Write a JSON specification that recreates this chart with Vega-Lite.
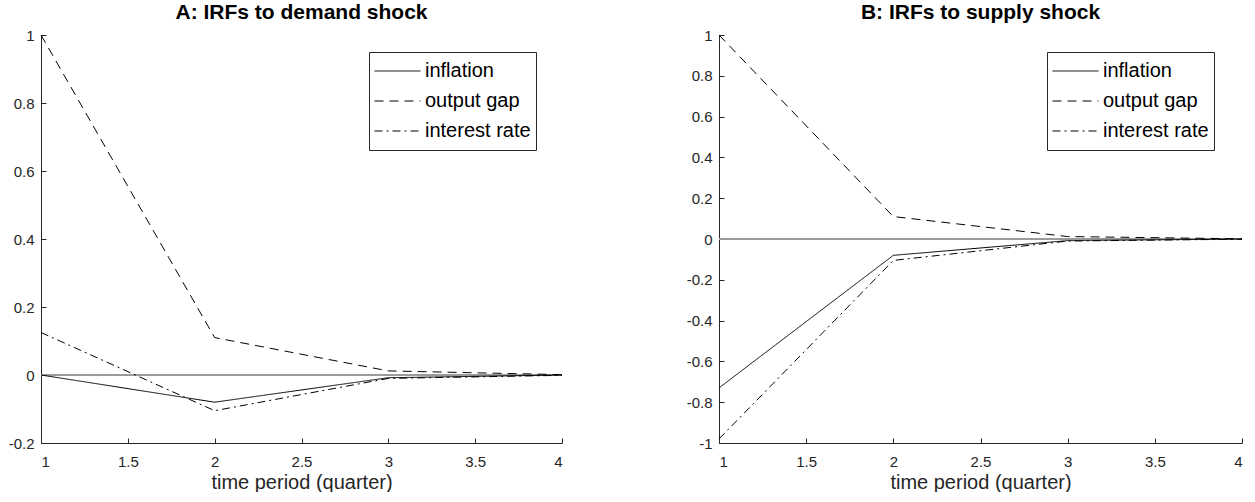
{
  "$schema": "https://vega.github.io/schema/vega-lite/v6.json",
  "background": "white",
  "padding": {"top": 2, "left": 8, "right": 2, "bottom": 0},
  "spacing": 122,
  "config": {
    "font": "Liberation Sans",
    "view": {"stroke": null},
    "axis": {
      "grid": false,
      "domainColor": "#262626",
      "domainWidth": 1,
      "tickColor": "#262626",
      "tickWidth": 1,
      "tickSize": -5,
      "labelColor": "#262626",
      "labelFontSize": 15,
      "titleColor": "#262626",
      "titleFontSize": 20,
      "titleFontWeight": "normal"
    },
    "axisX": {"labelPadding": 16, "titlePadding": 3},
    "axisY": {"labelPadding": 12},
    "title": {"fontSize": 21, "fontWeight": "bold", "color": "black", "offset": 5},
    "legend": {
      "orient": "none",
      "legendX": 328,
      "legendY": 17,
      "title": null,
      "symbolType": "stroke",
      "symbolSize": 2116,
      "symbolStrokeWidth": 1,
      "symbolStrokeColor": "black",
      "clipHeight": 28,
      "rowPadding": 2,
      "labelFontSize": 20,
      "labelColor": "black",
      "labelOffset": 4,
      "strokeColor": "#262626",
      "fillColor": "white",
      "padding": 5
    }
  },
  "datasets": {
    "irf": [
      {"panel": "A", "t": 1, "series": "inflation", "value": 0},
      {"panel": "A", "t": 2, "series": "inflation", "value": -0.08},
      {"panel": "A", "t": 3, "series": "inflation", "value": -0.008},
      {"panel": "A", "t": 4, "series": "inflation", "value": 0},
      {"panel": "A", "t": 1, "series": "output gap", "value": 1},
      {"panel": "A", "t": 2, "series": "output gap", "value": 0.11},
      {"panel": "A", "t": 3, "series": "output gap", "value": 0.012},
      {"panel": "A", "t": 4, "series": "output gap", "value": 0.001},
      {"panel": "A", "t": 1, "series": "interest rate", "value": 0.125},
      {"panel": "A", "t": 2, "series": "interest rate", "value": -0.105},
      {"panel": "A", "t": 3, "series": "interest rate", "value": -0.01},
      {"panel": "A", "t": 4, "series": "interest rate", "value": -0.001},
      {"panel": "B", "t": 1, "series": "inflation", "value": -0.73},
      {"panel": "B", "t": 2, "series": "inflation", "value": -0.08},
      {"panel": "B", "t": 3, "series": "inflation", "value": -0.008},
      {"panel": "B", "t": 4, "series": "inflation", "value": 0},
      {"panel": "B", "t": 1, "series": "output gap", "value": 1},
      {"panel": "B", "t": 2, "series": "output gap", "value": 0.11},
      {"panel": "B", "t": 3, "series": "output gap", "value": 0.012},
      {"panel": "B", "t": 4, "series": "output gap", "value": 0.001},
      {"panel": "B", "t": 1, "series": "interest rate", "value": -0.98},
      {"panel": "B", "t": 2, "series": "interest rate", "value": -0.105},
      {"panel": "B", "t": 3, "series": "interest rate", "value": -0.01},
      {"panel": "B", "t": 4, "series": "interest rate", "value": -0.001}
    ]
  },
  "resolve": {
    "scale": {"x": "independent", "y": "independent", "strokeDash": "independent"},
    "legend": {"strokeDash": "independent"}
  },
  "hconcat": [
    {
      "width": 521,
      "height": 408,
      "title": "A: IRFs to demand shock",
      "data": {"name": "irf"},
      "transform": [{"filter": "datum.panel == 'A'"}],
      "layer": [
        {
          "mark": {"type": "rule", "color": "#9a9a9a", "strokeWidth": 1},
          "encoding": {"y": {"datum": 0}}
        },
        {
          "mark": {"type": "line", "color": "black", "strokeWidth": 1},
          "encoding": {
            "x": {
              "field": "t", "type": "quantitative",
              "scale": {"domain": [1, 4], "nice": false, "zero": false},
              "axis": {"title": "time period (quarter)", "values": [1, 1.5, 2, 2.5, 3, 3.5, 4], "labelExpr": "'' + datum.value"}
            },
            "y": {
              "field": "value", "type": "quantitative",
              "scale": {"domain": [-0.2, 1], "nice": false, "zero": false},
              "axis": {"title": null, "values": [-0.2, 0, 0.2, 0.4, 0.6, 0.8, 1], "labelExpr": "'' + datum.value"}
            },
            "strokeDash": {
              "field": "series", "type": "nominal",
              "scale": {"domain": ["inflation", "output gap", "interest rate"], "range": [[1, 0], [9, 6], [8, 4, 2, 4]]}
            }
          }
        }
      ]
    },
    {
      "width": 523,
      "height": 408,
      "title": "B: IRFs to supply shock",
      "data": {"name": "irf"},
      "transform": [{"filter": "datum.panel == 'B'"}],
      "layer": [
        {
          "mark": {"type": "rule", "color": "#9a9a9a", "strokeWidth": 1},
          "encoding": {"y": {"datum": 0}}
        },
        {
          "mark": {"type": "line", "color": "black", "strokeWidth": 1},
          "encoding": {
            "x": {
              "field": "t", "type": "quantitative",
              "scale": {"domain": [1, 4], "nice": false, "zero": false},
              "axis": {"title": "time period (quarter)", "values": [1, 1.5, 2, 2.5, 3, 3.5, 4], "labelExpr": "'' + datum.value"}
            },
            "y": {
              "field": "value", "type": "quantitative",
              "scale": {"domain": [-1, 1], "nice": false, "zero": false},
              "axis": {"title": null, "values": [-1, -0.8, -0.6, -0.4, -0.2, 0, 0.2, 0.4, 0.6, 0.8, 1], "labelExpr": "'' + datum.value"}
            },
            "strokeDash": {
              "field": "series", "type": "nominal",
              "scale": {"domain": ["inflation", "output gap", "interest rate"], "range": [[1, 0], [9, 6], [8, 4, 2, 4]]}
            }
          }
        }
      ]
    }
  ]
}
